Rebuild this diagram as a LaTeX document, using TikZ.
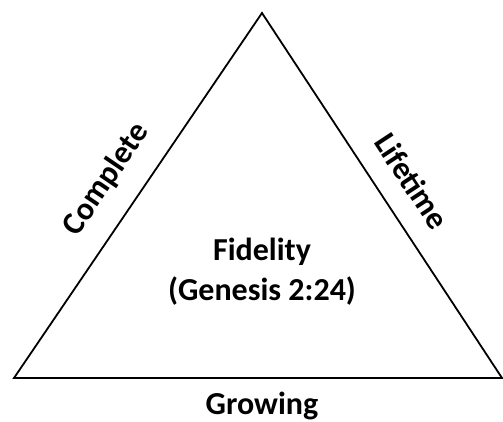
\documentclass[tikz,border=0pt]{standalone}
\usepackage{fontspec}
\setmainfont{Carlito}
\usepackage{tikz}
\usetikzlibrary{calc,positioning}
\tikzstyle{sidelabel}=[sloped,font=\fontsize{32}{38}\selectfont\bfseries]
\begin{document}
\begin{tikzpicture}[
  x=1pt,y=1pt,
  edge/.style={draw,line width=1.8pt,line join=miter},
  mytext/.style={
    align=center,
    font=\fontsize{32}{40}\selectfont\bfseries
    }
]
\useasboundingbox (0,0) rectangle (503,422);

\coordinate (bl) at (14,44);
\coordinate (br) at (502,44);
\coordinate (apex) at (262,409);

\path[edge] (bl) -- (br) -- (apex) -- cycle;

\path (bl) -- (apex)
  node [sidelabel,pos=0.49,above=18pt] (complete) {Complete};
\path (apex) -- (br)
  node [sidelabel,pos=0.51,above=18pt] (lifetime) {Lifetime};

\node[mytext] (fidelity) at (262,150) {Fidelity\\(Genesis 2:24)};
\node[mytext,anchor=base] (growing) at (262,7) {Growing};

\end{tikzpicture}
\end{document}
